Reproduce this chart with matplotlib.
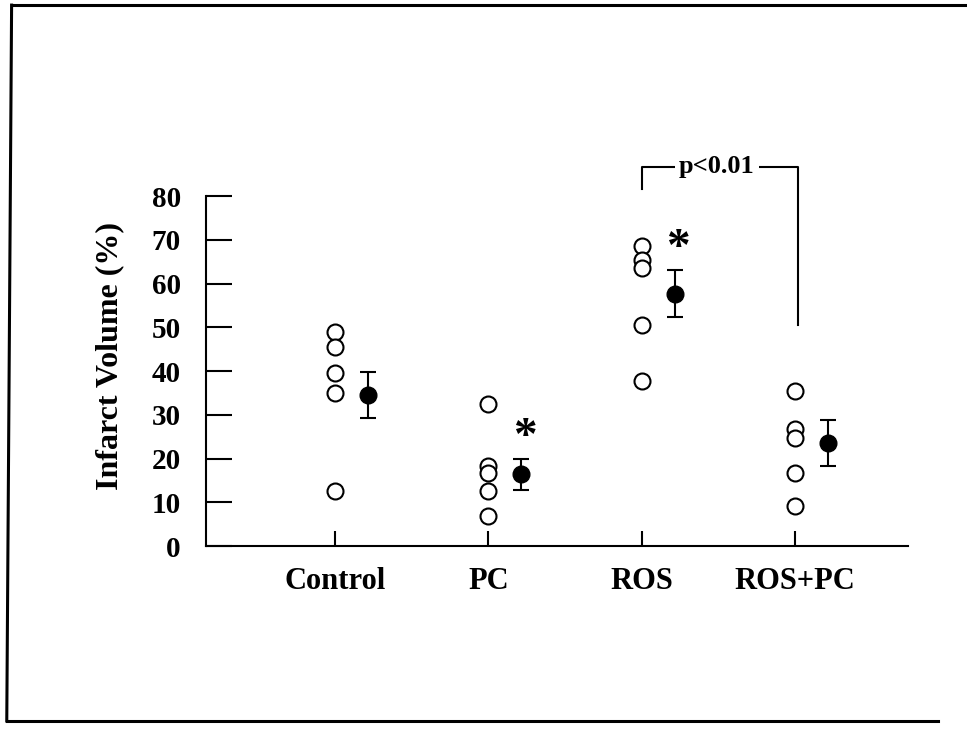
import matplotlib
matplotlib.use("Agg")
import matplotlib.pyplot as plt
from matplotlib.lines import Line2D

plt.rcParams['font.family'] = ['Liberation Serif', 'DejaVu Serif']
plt.rcParams['font.weight'] = 'bold'
plt.rcParams['axes.labelweight'] = 'bold'

# data
groups = ['Control', 'PC', 'ROS', 'ROS+PC']
control = [49.0, 45.4, 39.6, 34.9, 12.5]
pc = [32.5, 18.2, 16.6, 12.6, 6.8]
ros = [68.5, 65.5, 63.5, 50.5, 37.8]
ros_pc = [35.5, 26.8, 24.6, 16.6, 9.2]
means = [34.5, 16.4, 57.7, 23.5]
errs = [5.3, 3.6, 5.4, 5.3]
signif = [False, True, True, False]
yticks = [0, 10, 20, 30, 40, 50, 60, 70, 80]
p_text = 'p<0.01'

individual = [control, pc, ros, ros_pc]
xpos = [1, 2, 3, 4]
off = 0.215

fig = plt.figure(figsize=(9.67, 7.29), dpi=100)
ax = fig.add_axes([0.213, 0.251, 0.726, 0.480])

for x, vals in zip(xpos, individual):
    ax.plot([x] * len(vals), vals, 'o', mfc='white', mec='black',
            mew=1.5, ms=11.5, clip_on=False, zorder=3)

mx = [x + off for x in xpos]
ax.errorbar(mx, means, yerr=errs, fmt='o', color='black', ms=12,
            elinewidth=1.5, capsize=6, capthick=1.5, clip_on=False, zorder=4)

for x, m, e, s in zip(mx, means, errs, signif):
    if s:
        ax.text(x + 0.02, m + e + 4.8, '*', fontsize=34, ha='center',
                va='center', fontweight='bold')

# bracket ROS vs ROS+PC
by = 86.7
ax.plot([3, 3, 4.02, 4.02], [81.7, by, by, ros_pc[0] + 15], color='black',
        lw=1.5, clip_on=False)
ax.text(3.49, by, p_text, fontsize=19, ha='center', va='center',
        bbox=dict(facecolor='white', edgecolor='none', pad=3), clip_on=False)

ax.set_xlim(0.158, 4.737)
ax.set_ylim(0, 80)
ax.set_yticks(yticks)
ax.set_xticks(xpos)
ax.set_xticklabels(groups, fontsize=22)
ax.tick_params(axis='y', direction='in', length=19, width=1.5,
               labelsize=21, pad=18)
ax.tick_params(axis='x', direction='in', length=11, width=1.5, pad=15)
ax.spines['top'].set_visible(False)
ax.spines['right'].set_visible(False)
ax.spines['left'].set_linewidth(1.5)
ax.spines['bottom'].set_linewidth(1.5)
ax.set_ylabel('Infarct Volume (%)', fontsize=23, fontweight='bold')
ax.yaxis.set_label_coords(-0.117, 0.543)

# scanned frame around the figure
fig.add_artist(Line2D([0.012, 1.0], [0.993, 0.993], color='black', lw=2.2))
fig.add_artist(Line2D([0.012, 0.007], [0.993, 0.011], color='black', lw=2.2))
fig.add_artist(Line2D([0.007, 0.97], [0.011, 0.011], color='black', lw=2.2))

fig.savefig('out.png', dpi=100)
